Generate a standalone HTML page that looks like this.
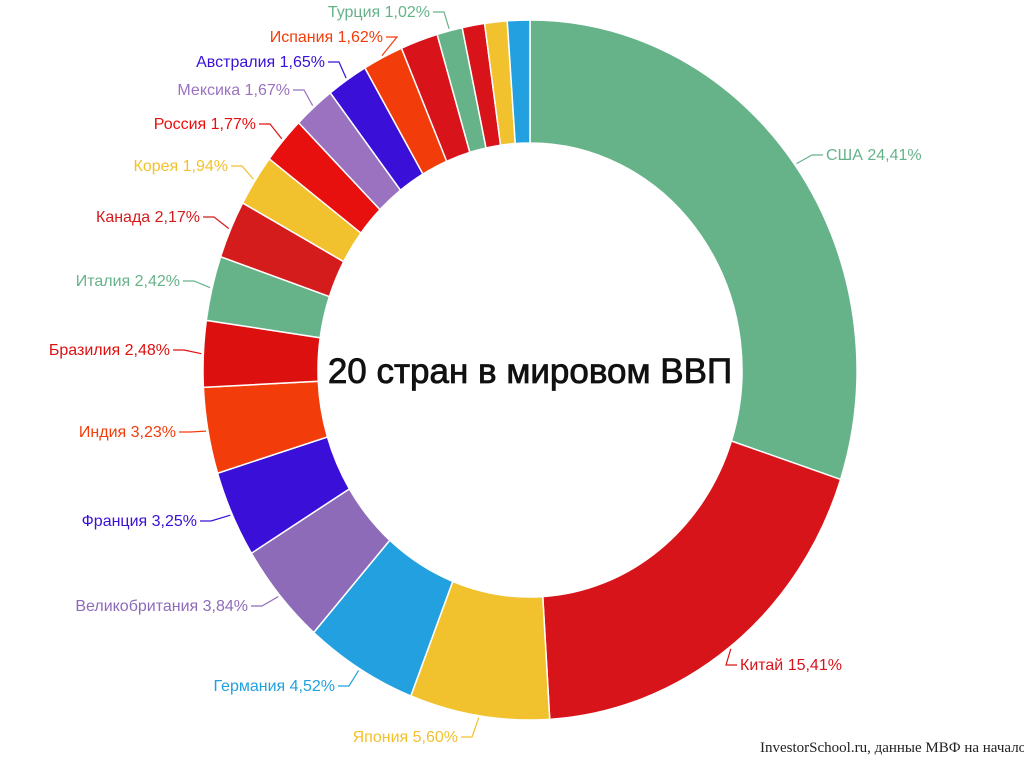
<!DOCTYPE html>
<html><head><meta charset="utf-8"><style>
html,body{margin:0;padding:0;background:#fff;overflow:hidden;}
svg{display:block;font-family:"Liberation Sans","DejaVu Sans",sans-serif;}
</style></head><body>
<svg id="chart" width="1024" height="767" viewBox="0 0 1024 767">
<g id="slices"></g>
<g id="labels"></g>
<text x="530" y="383" text-anchor="middle" font-size="35" fill="#111" stroke="#111" stroke-width="0.8">20 стран в мировом ВВП</text>
<text x="760" y="752" font-family="Liberation Serif, serif" font-size="15" fill="#222">InvestorSchool.ru, данные МВФ на начало</text>
</svg>
<script>
const countries=["США","Китай","Япония","Германия","Великобритания","Франция","Индия","Бразилия","Италия","Канада","Корея","Россия","Мексика","Австралия","Испания","","Турция","","",""];
const values=[24.41,15.41,5.60,4.52,3.84,3.25,3.23,2.48,2.42,2.17,1.94,1.77,1.67,1.65,1.62,1.5,1.02,0.9,0.9,0.9];
const colors=["#66b38a","#d7141a","#f2c12e","#22a0e0","#8e6bb8","#3a10d8","#f23c0a","#dd1010","#66b38a","#d41c1c","#f2c12e","#e8100f","#9a72c0","#3a10d8","#f23c0a","#d8141a","#66b38a","#d8141a","#f2c12e","#22a0e0"];
const labelPos=[[826,155,"start"],[740,665,"start"],[458,737,"end"],[335,686,"end"],[248,606,"end"],[197,521,"end"],[176,432,"end"],[170,350,"end"],[180,281,"end"],[200,217,"end"],[228,166,"end"],[256,124,"end"],[290,90,"end"],[325,62,"end"],[383,37,"end"],null,[430,12,"end"],null,null,null];
const cx=530,cy=370,rx=327,ry=350,irx=212,iry=227;
const NS="http://www.w3.org/2000/svg";
const total=values.reduce((a,b)=>a+b,0);
function pt(a,X,Y){return [cx+X*Math.sin(a),cy-Y*Math.cos(a)];}
const gS=document.getElementById('slices'),gL=document.getElementById('labels');
let acc=0;
values.forEach((v,i)=>{
  const a0=acc/total*2*Math.PI;acc+=v;const a1=acc/total*2*Math.PI;
  const lg=(a1-a0)>Math.PI?1:0;
  const p0=pt(a0,rx,ry),p1=pt(a1,rx,ry),q1=pt(a1,irx,iry),q0=pt(a0,irx,iry);
  const p=document.createElementNS(NS,'path');
  p.setAttribute('d',`M${p0} A${rx} ${ry} 0 ${lg} 1 ${p1} L${q1} A${irx} ${iry} 0 ${lg} 0 ${q0} Z`);
  p.setAttribute('fill',colors[i]);p.setAttribute('stroke','#fff');p.setAttribute('stroke-width','1.5');
  
  
  gS.appendChild(p);
  const lp=labelPos[i];
  if(lp&&countries[i]){
    const am=(a0+a1)/2;const e=pt(am,rx+2,ry+2);
    const t=document.createElementNS(NS,'text');
    t.setAttribute('x',lp[0]);t.setAttribute('y',lp[1]+5);t.setAttribute('text-anchor',lp[2]);
    t.setAttribute('font-size','16');t.setAttribute('fill',colors[i]);
    t.textContent=countries[i]+' '+v.toFixed(2).replace('.',',')+'%';
    
    
    gL.appendChild(t);
    const hx=lp[2]==='end'?lp[0]+3:lp[0]-3,hx2=lp[2]==='end'?lp[0]+14:lp[0]-14;
    const l=document.createElementNS(NS,'polyline');
    l.setAttribute('points',`${hx},${lp[1]} ${hx2},${lp[1]} ${e[0]},${e[1]}`);
    l.setAttribute('fill','none');l.setAttribute('stroke',colors[i]);l.setAttribute('stroke-width','1.2');
    
    
    gL.appendChild(l);
  }
});
</script>
</body></html>
